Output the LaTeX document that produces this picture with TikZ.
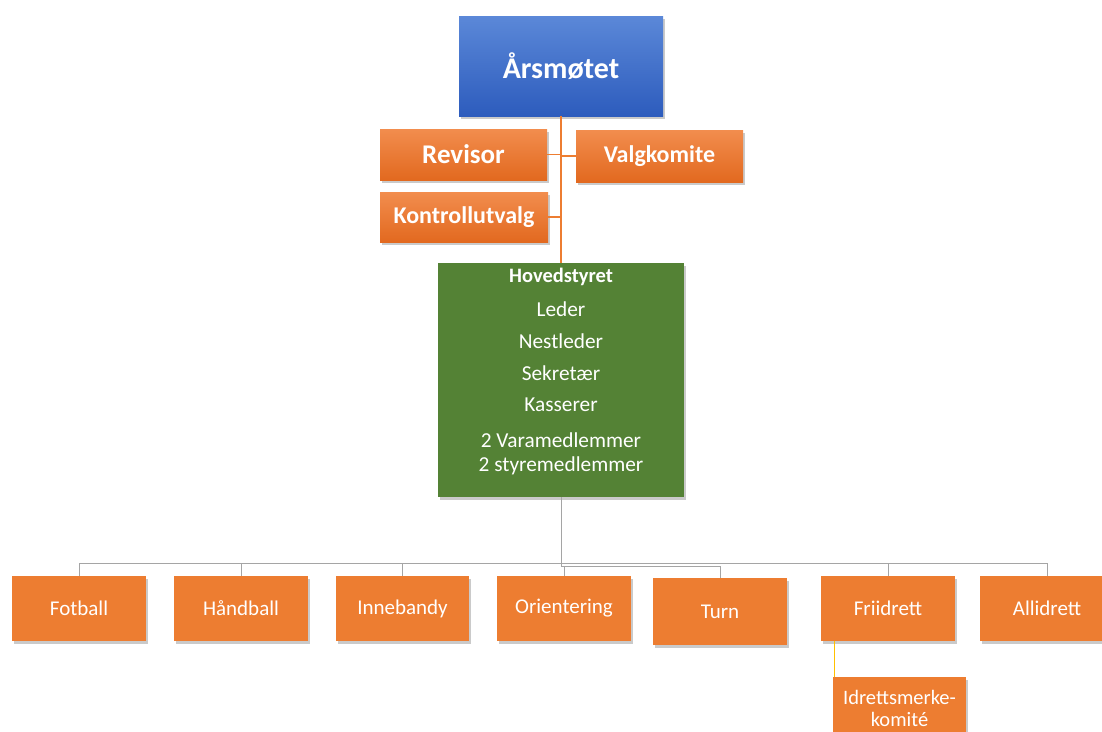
\documentclass[tikz,border=0pt]{standalone}
\usepackage{fontspec}
\setmainfont{Carlito}
\usetikzlibrary{shadows}
\definecolor{orng}{HTML}{ED7D31}
\definecolor{orngtop}{HTML}{F28D4E}
\definecolor{orngbot}{HTML}{E2691F}
\definecolor{bluetop}{HTML}{5B88D8}
\definecolor{bluebot}{HTML}{2D5CBD}
\definecolor{grn}{HTML}{548235}
\definecolor{graylin}{HTML}{A5A5A5}
\definecolor{yel}{HTML}{FFC000}
\tikzset{
  shad/.style={drop shadow={opacity=0.35,fill=black!60,shadow xshift=1.5pt,shadow yshift=-2.5pt}},
  box/.style={shad,inner sep=0pt,text=white,align=center},
  topbox/.style={box,top color=orngtop,bottom color=orngbot,font=\fontsize{24}{28}\selectfont\bfseries},
  unitbox/.style={box,fill=orng,minimum width=134pt,minimum height=65pt,font=\fontsize{21}{22}\selectfont},
  hstext/.style={text=white,inner sep=0pt,font=\fontsize{21.3}{24}\selectfont},
  oline/.style={draw=orng,line width=1.3pt},
  gline/.style={draw=graylin,line width=1pt},
  yline/.style={draw=yel,line width=1pt}
}
\begin{document}
\begin{tikzpicture}[x=1pt,y=-1pt]
\useasboundingbox (0,0) rectangle (1102,731);
\clip (0,0) rectangle (1102,731);
% helper coordinates for the bus lines
\coordinate (bus) at (0,563);
\coordinate (bus2) at (0,566);
% top
\node[box,top color=bluetop,bottom color=bluebot,minimum width=204pt,minimum height=100pt,font=\fontsize{30}{36}\selectfont\bfseries] (aars) at (561,66) {Årsmøtet};
\node[topbox,minimum width=167pt,minimum height=51pt,font=\fontsize{27}{30}\selectfont\bfseries] (revisor) at (463.5,154.5) {Revisor};
\node[topbox,minimum width=167pt,minimum height=52pt] (valg) at (659.5,156) {Valgkomite};
\node[topbox,minimum width=168pt,minimum height=50pt] (kontroll) at (464,217) {Kontrollutvalg};
\node[box,fill=grn,minimum width=246pt,minimum height=234pt] (hoved) at (561,380) {};
\node[hstext,font=\fontsize{20.5}{24}\selectfont\bfseries] (hs0) at (561,277) {Hovedstyret};
\node[hstext] (hs1) at (561,309) {Leder};
\node[hstext] (hs2) at (561,341) {Nestleder};
\node[hstext] (hs3) at (561,373) {Sekretær};
\node[hstext] (hs4) at (561,405) {Kasserer};
\node[hstext] (hs5) at (561,440) {2 Varamedlemmer};
\node[hstext] (hs6) at (561,466) {2 styremedlemmer};
% units
\node[unitbox] (fotball) at (79,608.5) {Fotball};
\node[unitbox] (handball) at (241,608.5) {Håndball};
\node[unitbox,minimum width=133pt] (innebandy) at (402.5,608.5) {Innebandy};
\node[unitbox] (orientering) at (564,608.5) {Orientering};
\node[unitbox,minimum height=67pt] (turn) at (720,611.5) {Turn};
\node[unitbox] (friidrett) at (888,608.5) {Friidrett};
\node[unitbox] (allidrett) at (1047,608.5) {Allidrett};
\node[unitbox,minimum width=133pt,minimum height=62pt,font=\fontsize{20.5}{22}\selectfont] (idretts) at (899.5,708) {Idrettsmerke-\\komité};
% connectors
\draw[oline] (aars.south) -- (hoved.north);
\draw[oline] (revisor.east) -- (revisor.east -| aars.south);
\draw[oline] (valg.west) -- (valg.west -| aars.south);
\draw[oline] (kontroll.east) -- (kontroll.east -| aars.south);
\draw[gline] (hoved.south) -- (hoved.south |- bus2);
\draw[gline] (fotball.north) |- (allidrett.north |- bus) -- (allidrett.north);
\draw[gline] (handball.north) -- (handball.north |- bus);
\draw[gline] (innebandy.north) -- (innebandy.north |- bus);
\draw[gline] (friidrett.north) -- (friidrett.north |- bus);
\draw[gline] (hoved.south |- bus2) -| (turn.north);
\draw[gline] (orientering.north) -- (orientering.north |- bus2);
\draw[yline] ([xshift=2pt]idretts.north west) -- ([xshift=2pt]idretts.north west |- friidrett.south);
\end{tikzpicture}
\end{document}
